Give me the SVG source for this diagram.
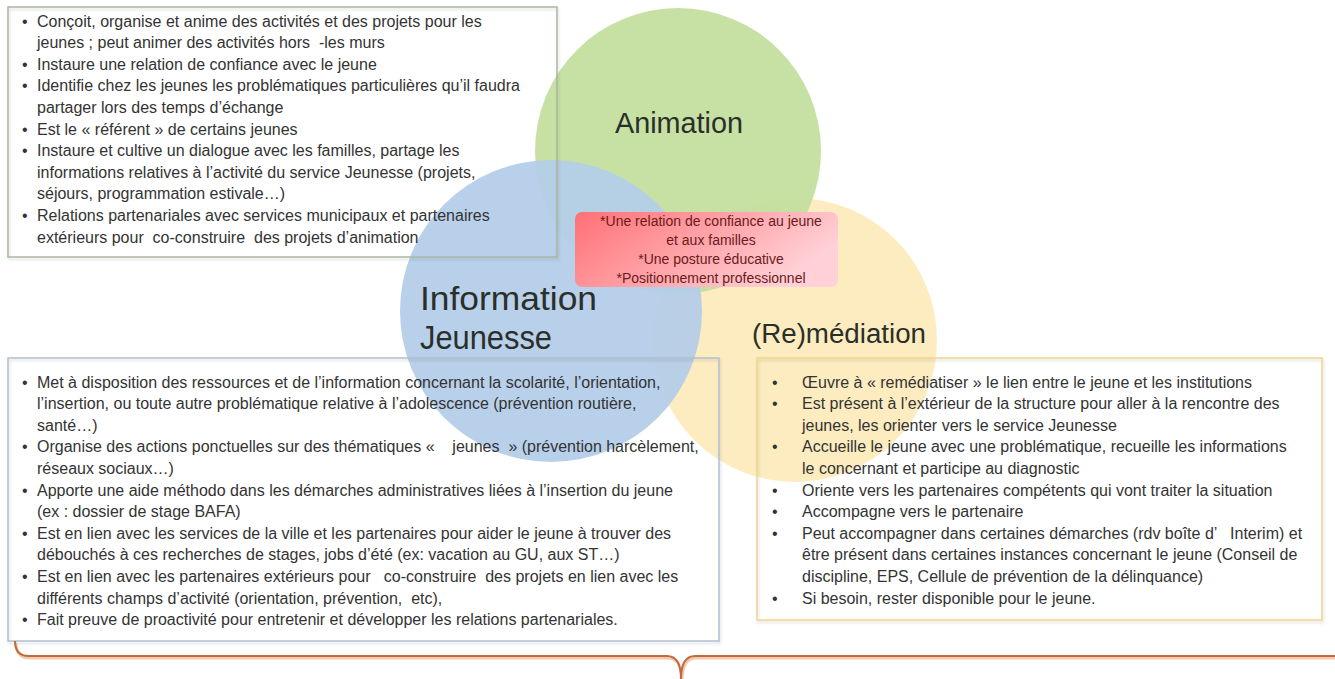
<svg xmlns="http://www.w3.org/2000/svg" width="1335" height="679" viewBox="0 0 1335 679">
<style>
.t{font-family:"Liberation Sans",Arial,sans-serif;font-size:16px;fill:#333;white-space:pre}
.h{font-family:"Liberation Sans",Arial,sans-serif;fill:#2a2f2a}
.pk{font-family:"Liberation Sans",Arial,sans-serif;font-size:14px;fill:#6b1a1a;text-anchor:middle}
.box{fill:none;stroke-width:1.5}
</style>
<defs>
<linearGradient id="pg" x1="0" y1="0" x2="1" y2="0.4">
<stop offset="0" stop-color="#ff7075"/>
<stop offset="1" stop-color="#ffd0d6"/>
</linearGradient>
<filter id="sh" x="-5%" y="-5%" width="110%" height="115%">
<feDropShadow dx="1" dy="2" stdDeviation="1.5" flood-color="#000" flood-opacity="0.15"/>
</filter>
</defs>

<g id="circles">
<circle id="c-rem" cx="795" cy="340" r="142" fill="#fde9b4" opacity="0.85"/>
<circle id="c-anim" cx="678" cy="151" r="143" fill="#c4dfa0" opacity="0.95"/>
<circle id="c-info" cx="551" cy="311" r="151" fill="#b4cde8" opacity="0.95"/>
</g>

<g id="labels">
<text class="h" x="615" y="133" font-size="29" textLength="128" lengthAdjust="spacingAndGlyphs">Animation</text>
<text class="h" x="420" y="310" font-size="33" textLength="177" lengthAdjust="spacingAndGlyphs">Information</text>
<text class="h" x="420" y="349" font-size="33" textLength="132" lengthAdjust="spacingAndGlyphs">Jeunesse</text>
<text class="h" x="752" y="343" font-size="27" textLength="174" lengthAdjust="spacingAndGlyphs">(Re)médiation</text>
</g>

<g id="center">
<rect x="575" y="212" width="263" height="75" rx="7" fill="url(#pg)"/>
<text class="pk" x="711" y="226">*Une relation de confiance au jeune</text>
<text class="pk" x="711" y="245">et aux familles</text>
<text class="pk" x="711" y="264">*Une posture éducative</text>
<text class="pk" x="711" y="283">*Positionnement professionnel</text>
</g>

<g id="box-animation">
<rect class="box" x="8" y="7" width="549" height="250" stroke="#aab79e" filter="url(#sh)"/>
<text class="t" x="22" y="26.5">•</text><text class="t" x="37" y="26.5">Conçoit, organise et anime des activités et des projets pour les</text>
<text class="t" x="37" y="48.1">jeunes ; peut animer des activités hors  -les murs</text>
<text class="t" x="22" y="69.7">•</text><text class="t" x="37" y="69.7">Instaure une relation de confiance avec le jeune</text>
<text class="t" x="22" y="91.3">•</text><text class="t" x="37" y="91.3">Identifie chez les jeunes les problématiques particulières qu’il faudra</text>
<text class="t" x="37" y="112.9">partager lors des temps d’échange</text>
<text class="t" x="22" y="134.5">•</text><text class="t" x="37" y="134.5">Est le « référent » de certains jeunes</text>
<text class="t" x="22" y="156.1">•</text><text class="t" x="37" y="156.1">Instaure et cultive un dialogue avec les familles, partage les</text>
<text class="t" x="37" y="177.7">informations relatives à l’activité du service Jeunesse (projets,</text>
<text class="t" x="37" y="199.3">séjours, programmation estivale…)</text>
<text class="t" x="22" y="220.9">•</text><text class="t" x="37" y="220.9">Relations partenariales avec services municipaux et partenaires</text>
<text class="t" x="37" y="242.5">extérieurs pour  co-construire  des projets d’animation</text>
</g>

<g id="box-information">
<rect class="box" x="8" y="358" width="711" height="283" stroke="#afc0d3" filter="url(#sh)"/>
<text class="t" x="22" y="387.5">•</text><text class="t" x="37" y="387.5">Met à disposition des ressources et de l’information concernant la scolarité, l’orientation,</text>
<text class="t" x="37" y="409.1">l’insertion, ou toute autre problématique relative à l’adolescence (prévention routière,</text>
<text class="t" x="37" y="430.7">santé…)</text>
<text class="t" x="22" y="452.3">•</text><text class="t" x="37" y="452.3">Organise des actions ponctuelles sur des thématiques «    jeunes  » (prévention harcèlement,</text>
<text class="t" x="37" y="473.9">réseaux sociaux…)</text>
<text class="t" x="22" y="495.5">•</text><text class="t" x="37" y="495.5">Apporte une aide méthodo dans les démarches administratives liées à l’insertion du jeune</text>
<text class="t" x="37" y="517.1">(ex : dossier de stage BAFA)</text>
<text class="t" x="22" y="538.7">•</text><text class="t" x="37" y="538.7">Est en lien avec les services de la ville et les partenaires pour aider le jeune à trouver des</text>
<text class="t" x="37" y="560.3">débouchés à ces recherches de stages, jobs d’été (ex: vacation au GU, aux ST…)</text>
<text class="t" x="22" y="581.9">•</text><text class="t" x="37" y="581.9">Est en lien avec les partenaires extérieurs pour   co-construire  des projets en lien avec les</text>
<text class="t" x="37" y="603.5">différents champs d’activité (orientation, prévention,  etc),</text>
<text class="t" x="22" y="625.1">•</text><text class="t" x="37" y="625.1">Fait preuve de proactivité pour entretenir et développer les relations partenariales.</text>
</g>

<g id="box-remediation">
<rect class="box" x="757" y="358" width="565" height="262" stroke="#f0d58c" filter="url(#sh)"/>
<text class="t" x="772" y="387.5">•</text><text class="t" x="802" y="387.5">Œuvre à « remédiatiser » le lien entre le jeune et les institutions</text>
<text class="t" x="772" y="409.1">•</text><text class="t" x="802" y="409.1">Est présent à l’extérieur de la structure pour aller à la rencontre des</text>
<text class="t" x="802" y="430.7">jeunes, les orienter vers le service Jeunesse</text>
<text class="t" x="772" y="452.3">•</text><text class="t" x="802" y="452.3">Accueille le jeune avec une problématique, recueille les informations</text>
<text class="t" x="802" y="473.9">le concernant et participe au diagnostic</text>
<text class="t" x="772" y="495.5">•</text><text class="t" x="802" y="495.5">Oriente vers les partenaires compétents qui vont traiter la situation</text>
<text class="t" x="772" y="517.1">•</text><text class="t" x="802" y="517.1">Accompagne vers le partenaire</text>
<text class="t" x="772" y="538.7">•</text><text class="t" x="802" y="538.7">Peut accompagner dans certaines démarches (rdv boîte d’   Interim) et</text>
<text class="t" x="802" y="560.3">être présent dans certaines instances concernant le jeune (Conseil de</text>
<text class="t" x="802" y="581.9">discipline, EPS, Cellule de prévention de la délinquance)</text>
<text class="t" x="772" y="603.5">•</text><text class="t" x="802" y="603.5">Si besoin, rester disponible pour le jeune.</text>
</g>

<g id="connectors" fill="none">
<path d="M15,641 Q15,656 29,656 L667,656 Q681,656 681,679 M681,679 Q681,656 695,656 L1340,656" stroke="#f3c9ac" stroke-width="3" transform="translate(1,2)"/>
<path d="M15,641 Q15,656 29,656 L667,656 Q681,656 681,679 M681,679 Q681,656 695,656 L1340,656" stroke="#bf6a3f" stroke-width="2"/>
</g>
</svg>
